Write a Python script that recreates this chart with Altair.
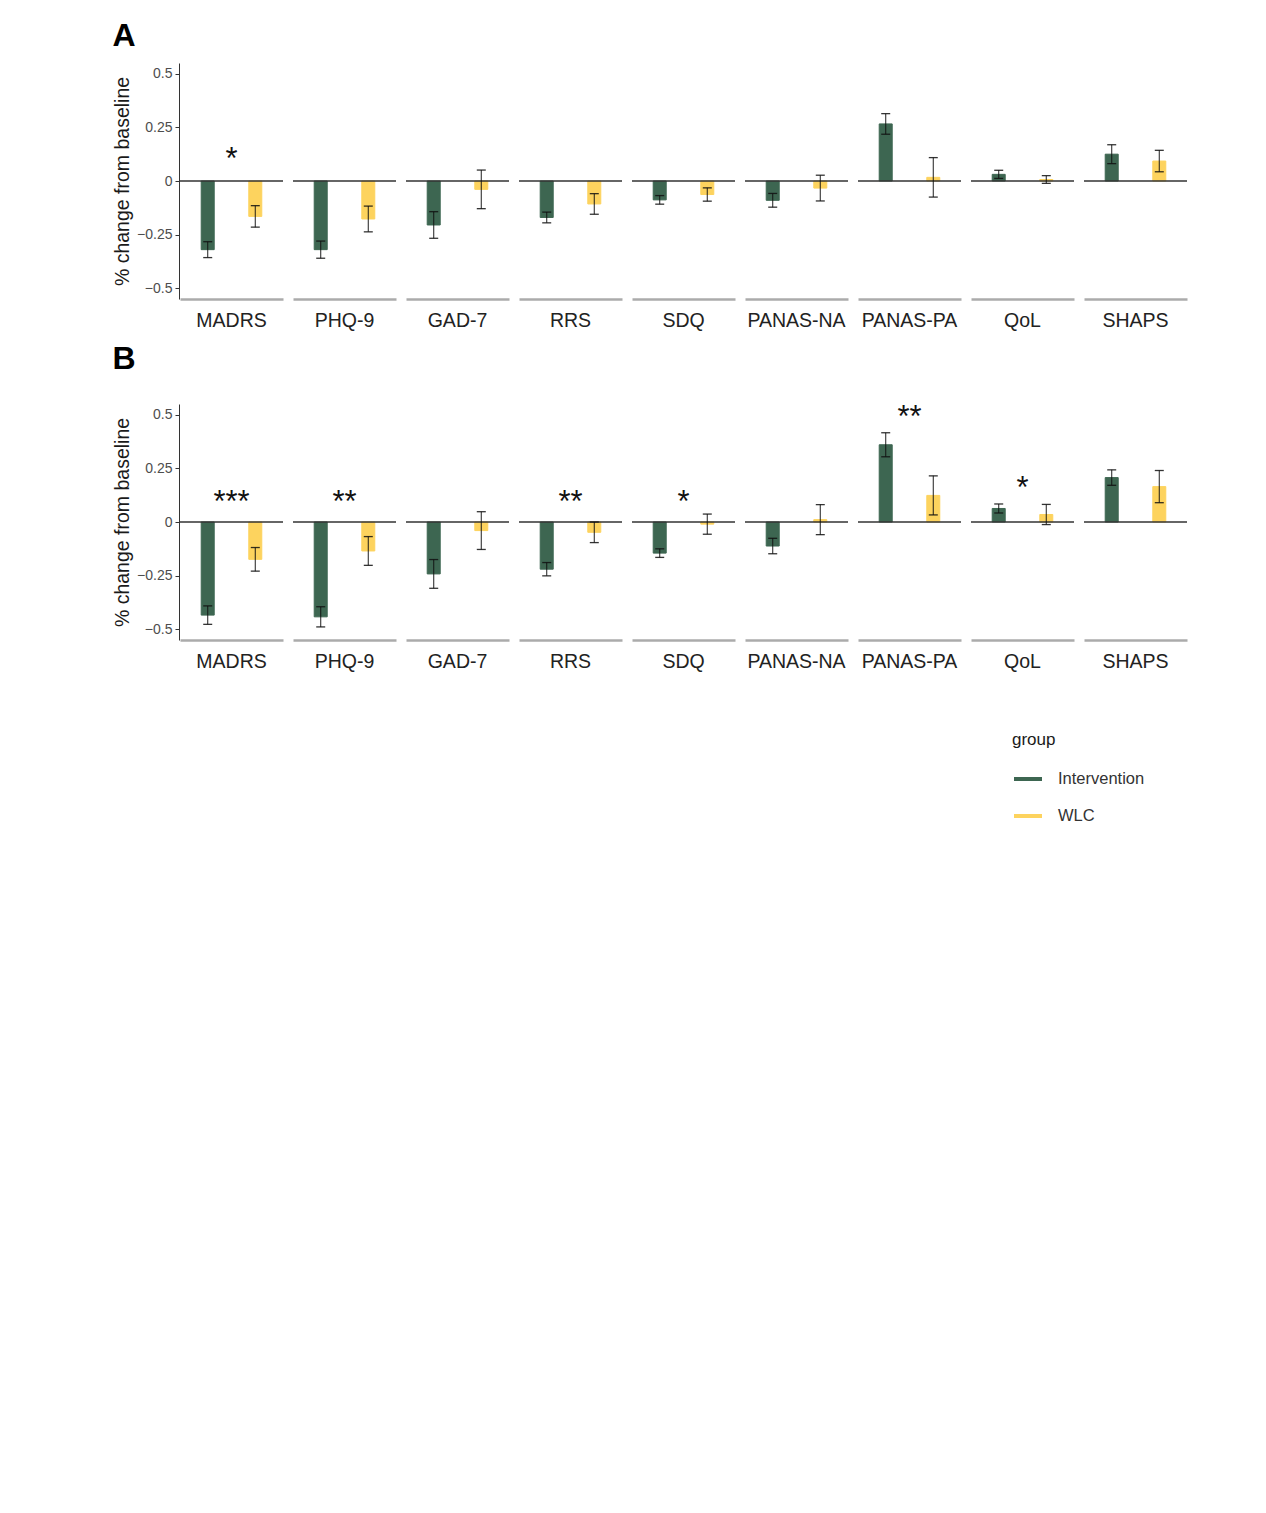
import altair as alt
import pandas as pd

FONT = "Liberation Sans"

measures = ["MADRS", "PHQ-9", "GAD-7", "RRS", "SDQ", "PANAS-NA", "PANAS-PA", "QoL", "SHAPS"]
groups = ["Intervention", "WLC"]
colors = ["#3d6651", "#fdd35e"]

# Panel A
a_int_mean = [-0.320, -0.320, -0.205, -0.170, -0.088, -0.090, 0.266, 0.031, 0.125]
a_int_se = [0.037, 0.040, 0.062, 0.025, 0.020, 0.032, 0.048, 0.019, 0.044]
a_wlc_mean = [-0.165, -0.177, -0.039, -0.107, -0.063, -0.033, 0.017, 0.007, 0.093]
a_wlc_se = [0.050, 0.060, 0.090, 0.048, 0.031, 0.060, 0.092, 0.018, 0.050]
a_star_measures = ["MADRS"]
a_star_labels = ["*"]
a_star_y = [0.135]

# Panel B
b_int_mean = [-0.434, -0.442, -0.242, -0.220, -0.145, -0.112, 0.360, 0.063, 0.207]
b_int_se = [0.043, 0.047, 0.067, 0.031, 0.020, 0.036, 0.056, 0.021, 0.036]
b_wlc_mean = [-0.174, -0.135, -0.040, -0.048, -0.010, 0.011, 0.124, 0.035, 0.165]
b_wlc_se = [0.055, 0.067, 0.088, 0.048, 0.047, 0.070, 0.091, 0.047, 0.075]
b_star_measures = ["MADRS", "PHQ-9", "RRS", "SDQ", "PANAS-PA", "QoL"]
b_star_labels = ["***", "**", "**", "*", "**", "*"]
b_star_y = [0.128, 0.128, 0.128, 0.128, 0.52, 0.19]

y_ticks = [-0.5, -0.25, 0, 0.25, 0.5]


def panel_df(im, ise, wm, wse, sm, sl, sy):
    rows = []
    for i, m in enumerate(measures):
        for g, mean, se in (("Intervention", im[i], ise[i]), ("WLC", wm[i], wse[i])):
            rows.append(dict(kind="bar", measure=m, group=g, mean=mean,
                             lo=mean - se, hi=mean + se, label="", ypos=0.0))
    for m, lab, y in zip(sm, sl, sy):
        rows.append(dict(kind="star", measure=m, group="Intervention", mean=0.0,
                         lo=0.0, hi=0.0, label=lab, ypos=y))
    return pd.DataFrame(rows)


yscale = alt.Scale(domain=[-0.55, 0.55], nice=False, zero=False)
xscale = alt.Scale(domain=groups, paddingInner=0.727, paddingOuter=0.446)
cscale = alt.Scale(domain=groups, range=colors)

legend = alt.Legend(
    title="group", orient="none", legendX=832, legendY=669,
    titleFontSize=17, titleFontWeight="normal", titleColor="#1a1a1a", titleFont=FONT,
    labelFontSize=16.5, labelColor="#333333", labelFont=FONT,
    symbolType="stroke", symbolSize=784, symbolStrokeWidth=4,
    rowPadding=12, titlePadding=14, labelOffset=14,
)

YTITLE = "% change from baseline"
yaxis = alt.Axis(
    values=y_ticks,
    labelExpr="datum.value == 0 ? '0' : replace(format(datum.value, '.2~f'), '-', '\u2212')",
    domainColor="#333333", tickColor="#333333", tickSize=4, domainWidth=1,
    labelFontSize=14, labelColor="#4d4d4d", labelFont=FONT, labelPadding=3,
    title=YTITLE, titleFontSize=19.5, titleFontWeight="normal",
    titleColor="#1a1a1a", titleFont=FONT, titlePadding=4, grid=False,
)
xaxis = alt.Axis(labels=False, ticks=False, title=None, domainColor="#ababab",
                 domainWidth=2.5, grid=False)


def panel(df, letter, title_offset):
    X = alt.X("group:N", scale=xscale, axis=xaxis, title=None)
    bars = alt.Chart().mark_bar(strokeWidth=1).encode(
        x=X,
        y=alt.Y("mean:Q", scale=yscale, axis=yaxis, title=YTITLE),
        fill=alt.Fill("group:N", scale=cscale, legend=legend),
        stroke=alt.Stroke("group:N", scale=cscale, legend=legend),
    ).transform_filter("datum.kind == 'bar'")
    zero = alt.Chart().mark_rule(color="#333333", strokeWidth=1.3).encode(
        y=alt.Y("ypos:Q", scale=yscale, axis=yaxis, title=YTITLE),
    ).transform_filter("datum.kind == 'bar' && datum.group == 'Intervention'")
    err = alt.Chart().mark_rule(color="#111111", strokeWidth=1.1, opacity=0.85).encode(
        x=X,
        y=alt.Y("lo:Q", scale=yscale, axis=yaxis, title=YTITLE),
        y2="hi:Q",
    ).transform_filter("datum.kind == 'bar'")
    cap_lo = alt.Chart().mark_tick(color="#111111", thickness=1.3, size=9, opacity=0.85).encode(
        x=X,
        y=alt.Y("lo:Q", scale=yscale, axis=yaxis, title=YTITLE),
    ).transform_filter("datum.kind == 'bar'")
    cap_hi = alt.Chart().mark_tick(color="#111111", thickness=1.3, size=9, opacity=0.85).encode(
        x=X,
        y=alt.Y("hi:Q", scale=yscale, axis=yaxis, title=YTITLE),
    ).transform_filter("datum.kind == 'bar'")
    stars = alt.Chart().mark_text(fontSize=31, baseline="alphabetic", dy=17,
                                  font=FONT, color="#111111").encode(
        y=alt.Y("ypos:Q", scale=yscale, axis=yaxis, title=YTITLE),
        text="label:N",
    ).transform_filter("datum.kind == 'star'")

    return alt.layer(bars, zero, err, cap_lo, cap_hi, stars, data=df).properties(
        width=103, height=236
    ).facet(
        column=alt.Column("measure:N", sort=measures, header=alt.Header(
            title=None, labelOrient="bottom", labelFontSize=19.5, labelFont=FONT,
            labelColor="#222222", labelPadding=13)),
        spacing=8,
    ).properties(
        title=alt.TitleParams(letter, anchor="start", frame="bounds", fontSize=32,
                              fontWeight="bold", font=FONT, color="#000000",
                              offset=title_offset)
    )


dfa = panel_df(a_int_mean, a_int_se, a_wlc_mean, a_wlc_se, a_star_measures, a_star_labels, a_star_y)
dfb = panel_df(b_int_mean, b_int_se, b_wlc_mean, b_wlc_se, b_star_measures, b_star_labels, b_star_y)

chart = alt.vconcat(panel(dfa, "A", 10), panel(dfb, "B", 26), spacing=12).properties(
    padding={"left": 104, "top": 12, "right": 5, "bottom": 5}
).configure(font=FONT).configure_view(strokeWidth=0, stroke="transparent")

chart.save("out.html", embed_options={"renderer": "svg", "actions": False})
